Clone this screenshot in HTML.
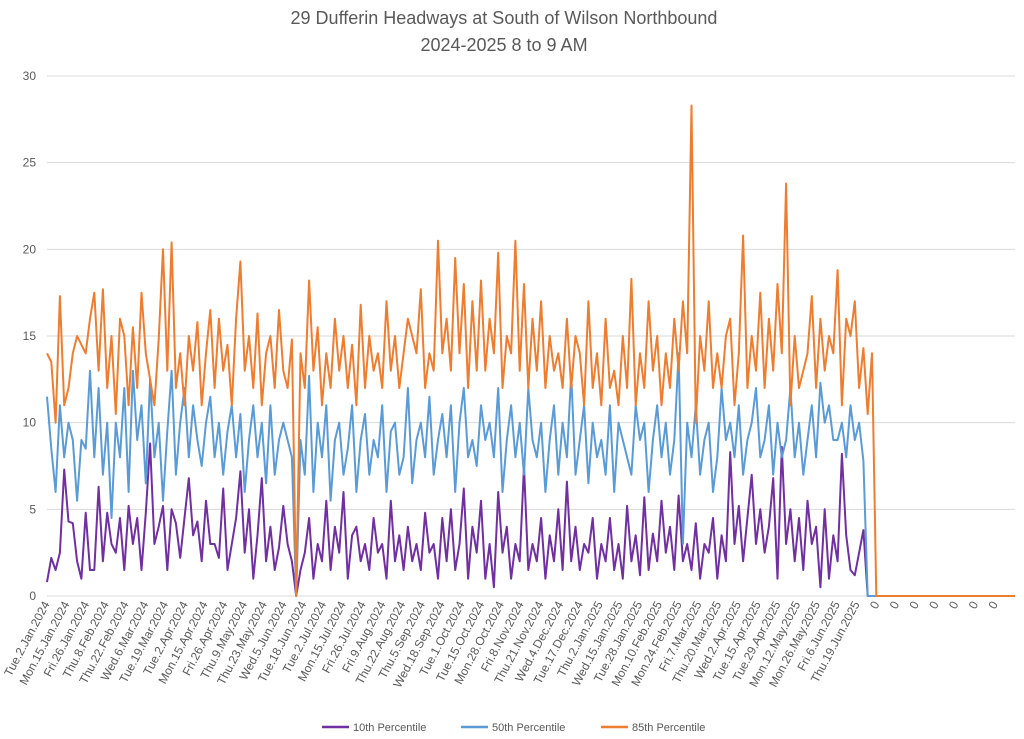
<!DOCTYPE html>
<html><head><meta charset="utf-8"><style>
body{margin:0;background:#fff;}
svg{display:block;font-family:"Liberation Sans",sans-serif;}
</style></head><body>
<svg id="chart" width="1024" height="739">
<text x="504" y="24" text-anchor="middle" font-size="18" fill="#595959">29 Dufferin Headways at South of Wilson Northbound</text>
<text x="504" y="51" text-anchor="middle" font-size="18" fill="#595959">2024-2025 8 to 9 AM</text>
<g id="grid"></g><g id="xlabels"></g><g id="series"></g>
<g>
<line x1="322" y1="727" x2="349" y2="727" stroke="#7030a0" stroke-width="2.5"/>
<text x="353" y="731" font-size="11" fill="#595959">10th Percentile</text>
<line x1="461" y1="727" x2="488" y2="727" stroke="#5b9bd5" stroke-width="2.5"/>
<text x="492" y="731" font-size="11" fill="#595959">50th Percentile</text>
<line x1="601" y1="727" x2="628" y2="727" stroke="#ed7d31" stroke-width="2.5"/>
<text x="632" y="731" font-size="11" fill="#595959">85th Percentile</text>
</g>
</svg>
<script>
const xLabels=["Tue.2.Jan.2024","Mon.15.Jan.2024","Fri.26.Jan.2024","Thu.8.Feb.2024","Thu.22.Feb.2024","Wed.6.Mar.2024","Tue.19.Mar.2024","Tue.2.Apr.2024","Mon.15.Apr.2024","Fri.26.Apr.2024","Thu.9.May.2024","Thu.23.May.2024","Wed.5.Jun.2024","Tue.18.Jun.2024","Tue.2.Jul.2024","Mon.15.Jul.2024","Fri.26.Jul.2024","Fri.9.Aug.2024","Thu.22.Aug.2024","Thu.5.Sep.2024","Wed.18.Sep.2024","Tue.1.Oct.2024","Tue.15.Oct.2024","Mon.28.Oct.2024","Fri.8.Nov.2024","Thu.21.Nov.2024","Wed.4.Dec.2024","Tue.17.Dec.2024","Thu.2.Jan.2025","Wed.15.Jan.2025","Tue.28.Jan.2025","Mon.10.Feb.2025","Mon.24.Feb.2025","Fri.7.Mar.2025","Thu.20.Mar.2025","Wed.2.Apr.2025","Tue.15.Apr.2025","Tue.29.Apr.2025","Mon.12.May.2025","Mon.26.May.2025","Fri.6.Jun.2025","Thu.19.Jun.2025","0","0","0","0","0","0","0"];
const yTicks=[0,5,10,15,20,25,30];
const p85=[14,13.5,10,17.3,11,12,14,15,14.5,14,16,17.5,13,17.7,12,15,10.5,16,15,11,15.5,12,17.5,14,12.5,11,14.8,20,13,20.4,12,14,11,15,13,15.8,11,14,16.5,12,16,13,14.5,11,16,19.3,13,15,12,16.3,11,14,15,12,16.5,13,12,14.8,0,14,12,18.2,13,15.5,11,14,12,16,13,15,12,14.5,11,16.8,12,15,13,14,12,17,13,15,12,14,16,15,14,17.7,12,14,13,20.5,14,16,13,19.5,14,18,12,17,13,18.2,13,16,14,19.8,12,15,14,20.5,13,18,12,16,13,17,12,15,13,14,12,16,12,15,14,11,17,12,14,11,16,12,13,11,15,12,18.3,11,14,12,17,13,15,11,14,12,16,13,17,14,28.3,10,15,13,17,12,14,12,15,16,11,14,20.8,12,15,13,17.5,12,16,13,18,14,23.8,11,15,12,13,14,17.3,12,16,13,15,14,18.8,11,16,15,17,12,14.3,10.5,14];
const p50=[11.5,8.5,6,11,8,10,9,5.5,9,8.5,13,8,12,7,10,4.5,10,8,12,6,13,9,11,6.5,12.5,8,10,5.5,9.5,13,7,10,12,8,11,9,7.5,10,11.5,8,10,7,9.5,11,8,10.5,6,9,11,8,10,6.5,11,7,9,10,9,8,0,9,7,12.7,6,10,8,11,5.5,9,10,7,8.5,11,6,9,10.5,7,9,8,11,6,9.5,10,7,8,12,6.5,9,10,8,11.5,7,9,10.5,8,11,6,10,12,8,9,7.5,11,9,10,8,12,6,9,11,8,10,7,12,9,8,10,6,9,11,7,10,8,12.8,7,9,11,6.5,10,8,9,7,11,6,10,9,8,7,11,9,10,6,9,11,8,10,7,9,14,3,10,8,11,7,9,10,6,8,12,9,10,8,11,7,9,10,12,8,9,11,7,10,8,9,12,8,10,7,9,11,8,12.3,10,11,9,9,10,8,11,9,10,7.8];
const p10=[0.8,2.2,1.5,2.5,7.3,4.3,4.2,2,1,4.8,1.5,1.5,6.3,2,4.8,3,2.5,4.5,1.5,5.2,3,4.5,1.5,4.8,8.8,3,4,5.2,1.5,5,4.2,2.2,4.5,6.8,3.5,4.3,2,5.5,3,3,2.2,6.2,1.5,3,4.5,7.2,2.5,5,1,3.5,6.8,2,4,1.5,2.8,5.2,3,2,0,1.5,2.5,4.5,1,3,2,5.5,1.5,4,2.5,6,1,3.5,4,2,3,1.5,4.5,2.5,3,1,5.5,2,3.5,1.5,4,2,3,1.5,4.8,2.5,3,1,4.5,2,5,1.5,3,6.2,1,4,2.5,5.5,1,3,0.5,6,2.5,4,1,3,2,7.5,1.5,3,2,4.5,1,3.5,2,5,1.5,6.6,2,4,1.5,3,2.5,4.5,1,3,2,4.5,1.5,3,1,5.2,2,3.5,1.2,5.7,1.5,3.6,2,5.5,2.5,4,1.5,5.8,2,3,1.5,4.2,1,3,2.5,4.5,1,3.5,2,8.3,3,5.2,2,4.5,7,3,5,2.5,4,6.8,1,8.6,3,5,2,4.5,1.5,5.5,3,4,0.5,5,1,3.5,2,8.2,3.5,1.5,1.2,2.5,3.8];
const NS="http://www.w3.org/2000/svg";
const X0=47,X1=1015,XDATA_END=872,Y0=596,YT=76;
function y(v){return Y0-v/30*(Y0-YT);}
const STEP=(XDATA_END-X0)/(p85.length-1);
function xp(j){return X0+j*STEP;}
function xl(i){return X0+i*(X1-X0)/xLabels.length;}
const grid=document.getElementById('grid');
yTicks.forEach(t=>{
  const l=document.createElementNS(NS,'line');
  l.setAttribute('x1',X0);l.setAttribute('x2',X1);l.setAttribute('y1',y(t));l.setAttribute('y2',y(t));
  l.setAttribute('stroke','#d9d9d9');
  
  
  grid.appendChild(l);
  const tx=document.createElementNS(NS,'text');
  tx.setAttribute('x',36);tx.setAttribute('y',y(t)+4);tx.setAttribute('text-anchor','end');
  tx.setAttribute('font-size','12');tx.setAttribute('fill','#595959');tx.textContent=t;
  
  
  grid.appendChild(tx);
});
const xg=document.getElementById('xlabels');
xLabels.forEach((s,i)=>{
  const tx=document.createElementNS(NS,'text');
  const px=xl(i)+3,py=604;
  tx.setAttribute('x',px);tx.setAttribute('y',py);tx.setAttribute('text-anchor','end');
  tx.setAttribute('font-size','12');tx.setAttribute('fill','#595959');
  tx.setAttribute('transform','rotate(-62 '+px+' '+py+')');
  tx.textContent=s;
  
  
  xg.appendChild(tx);
});
const sg=document.getElementById('series');
[[p10,'#7030a0','series-10th'],[p50,'#5b9bd5','series-50th'],[p85,'#ed7d31','series-85th']].forEach(([d,c,n])=>{
  const pts=[];
  for(let j=0;j<d.length;j++){pts.push(xp(j).toFixed(1)+','+y(d[j]).toFixed(1));}
  pts.push(xp(d.length).toFixed(1)+','+y(0).toFixed(1));
  pts.push(X1+','+y(0).toFixed(1));
  const pl=document.createElementNS(NS,'polyline');
  pl.setAttribute('points',pts.join(' '));pl.setAttribute('fill','none');
  pl.setAttribute('stroke',c);pl.setAttribute('stroke-width','2');pl.setAttribute('stroke-linejoin','round');
  
  
  sg.appendChild(pl);
});
</script>
</body></html>
